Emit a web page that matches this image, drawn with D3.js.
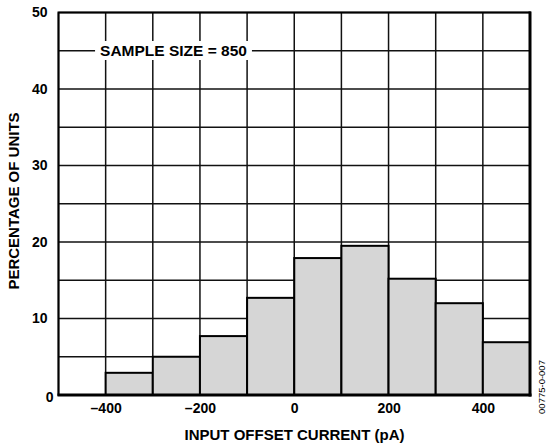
<!DOCTYPE html>
<html><head><meta charset="utf-8">
<script src="https://cdn.jsdelivr.net/npm/d3@7"></script>
<style>body{margin:0;background:#fff}svg{display:block}text{font-family:"Liberation Sans",Arial,sans-serif;font-weight:bold;fill:#000}</style>
</head><body><svg id="c" width="550" height="447"></svg>
<script>
const binStarts = [-400,-300,-200,-100,0,100,200,300,400];
const binWidth = 100;
const percentages = [2.9,5.0,7.7,12.7,17.9,19.5,15.2,12.0,6.9];
const xTicks = [-400,-200,0,200,400];
const yTicks = [0,10,20,30,40,50];
const xGrid = d3.range(-500,501,100);
const yGrid = d3.range(0,51,5);

const svg = d3.select("#c");
const L=58.5,R=530,T=12.5,B=395;
const x = d3.scaleLinear().domain([-500,500]).range([L,R]);
const y = d3.scaleLinear().domain([0,50]).range([B,T]);

const g = svg.append("g");
g.selectAll("line.v").data(xGrid).join("line").attr("x1",d=>x(d)).attr("x2",d=>x(d)).attr("y1",T).attr("y2",B).attr("stroke","#111").attr("stroke-width",1.5);
g.selectAll("line.h").data(yGrid).join("line").attr("x1",L).attr("x2",R).attr("y1",d=>y(d)).attr("y2",d=>y(d)).attr("stroke","#111").attr("stroke-width",1.5);

g.selectAll("rect.bar").data(binStarts).join("rect")
 .attr("x",d=>x(d)).attr("width",d=>x(d+binWidth)-x(d))
 .attr("y",(d,i)=>y(percentages[i])).attr("height",(d,i)=>B-y(percentages[i]))
 .attr("fill","#d6d6d6").attr("stroke","#000").attr("stroke-width",2);

svg.append("rect").attr("x",L).attr("y",T).attr("width",R-L).attr("height",B-T).attr("fill","none").attr("stroke","#000").attr("stroke-width",2);
svg.append("line").attr("x1",R).attr("x2",R).attr("y1",T-1).attr("y2",B+1.5).attr("stroke","#000").attr("stroke-width",3);
svg.append("line").attr("x1",L-1).attr("x2",R+1.5).attr("y1",B).attr("y2",B).attr("stroke","#000").attr("stroke-width",3);

// sample size label with white background
const lbl = svg.append("g");
const t = lbl.append("text").attr("x",173.5).attr("y",56).attr("text-anchor","middle").attr("font-size",15.5).text("SAMPLE SIZE = 850");
const bb = t.node().getBBox();
lbl.insert("rect","text").attr("x",bb.x-5).attr("y",bb.y-1).attr("width",bb.width+10).attr("height",bb.height+2).attr("fill","#fff");

// y axis labels
const ya = svg.append("g").attr("transform",`translate(${L},0)`).call(d3.axisLeft(y).tickValues(yTicks).tickSize(0).tickPadding(11).tickFormat(d3.format("d")));
ya.select(".domain").remove();
ya.selectAll("text").attr("font-size",14).style("font-family","Liberation Sans, Arial, sans-serif").style("font-weight","bold")
  .attr("dx",d=>d===0?6:0).attr("dy",d=>d===0?"0.45em":"0.32em");

const xa = svg.append("g").attr("transform",`translate(0,${B})`).call(d3.axisBottom(x).tickValues(xTicks).tickSize(0).tickPadding(8).tickFormat(d=>d<0?"\u2013"+Math.abs(d):d));
xa.select(".domain").remove();
xa.selectAll("text").attr("font-size",14).style("font-family","Liberation Sans, Arial, sans-serif").style("font-weight","bold");

svg.append("text").attr("x",294.5).attr("y",440).attr("text-anchor","middle").attr("font-size",15).text("INPUT OFFSET CURRENT (pA)");
svg.append("text").attr("transform","translate(18.5,201) rotate(-90)").attr("text-anchor","middle").attr("font-size",15).text("PERCENTAGE OF UNITS");
svg.append("text").attr("transform","translate(545,387) rotate(-90)").attr("text-anchor","middle").attr("font-size",9.5).style("font-weight","normal").text("00775-0-007");
</script></body></html>
